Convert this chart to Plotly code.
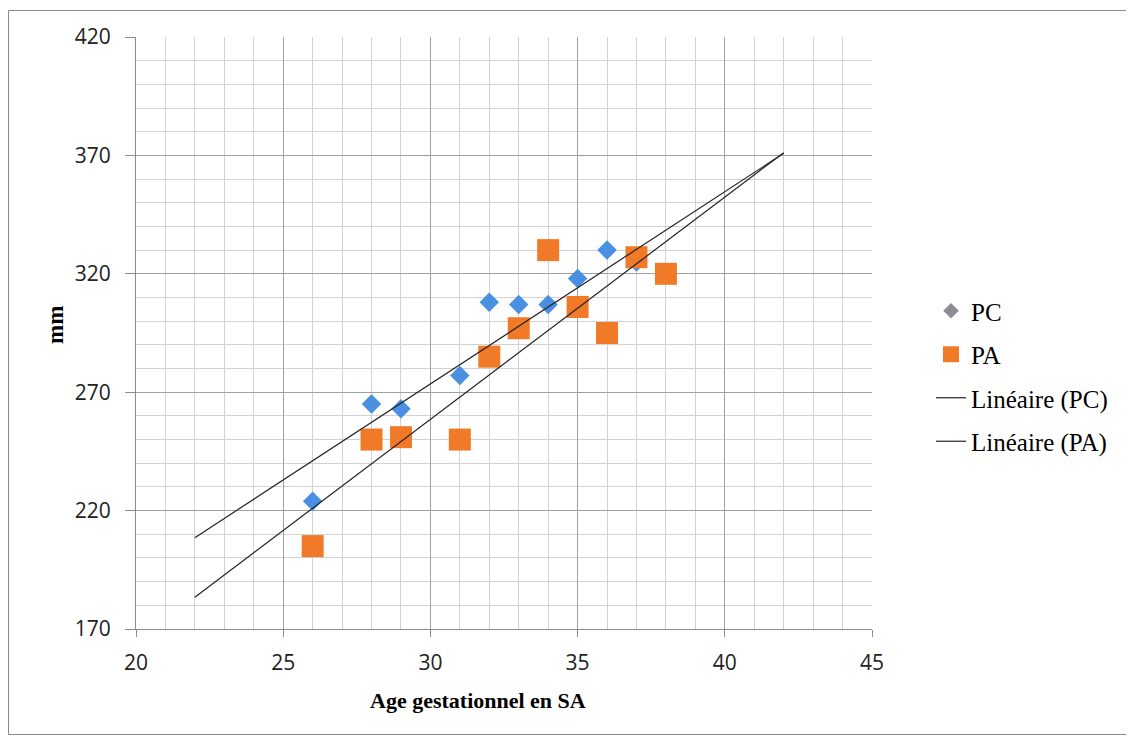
import numpy as np
import plotly.graph_objects as go

# Data
ages_pc = [26, 28, 29, 31, 32, 33, 34, 35, 36, 37, 38]
pc_values = [224, 265, 263, 277, 308, 307, 307, 318, 330, 325, 320]
ages_pa = [26, 28, 29, 31, 32, 33, 34, 35, 36, 37, 38]
pa_values = [205, 250, 251, 250, 285, 297, 330, 306, 295, 327, 320]
trend_range = [22, 42]
x_ticks = [20, 25, 30, 35, 40, 45]
y_ticks = [170, 220, 270, 320, 370, 420]

BLUE = "#4A90E2"
ORANGE = "#F07A28"

def fit_line(x, y):
    slope, intercept = np.polyfit(x, y, 1)
    xs = np.array(trend_range, dtype=float)
    return xs, slope * xs + intercept

# geometry (figure pixels; page has 8px body margin)
L, T, PW, PH = 128, 29, 736, 592
W, H = 1126, 730

fig = go.Figure()

fig.add_trace(go.Scatter(
    x=ages_pc, y=pc_values, mode="markers", name="PC",
    marker=dict(symbol="diamond", size=15, color=BLUE, line=dict(width=0)),
    showlegend=False))
fig.add_trace(go.Scatter(
    x=[None], y=[None], mode="markers", name="PC", legendgroup="g1",
    marker=dict(symbol="diamond", size=12, color="#8C8C96")))
fig.add_trace(go.Scatter(
    x=ages_pa, y=pa_values, mode="markers", name="PA", legendgroup="g2",
    marker=dict(symbol="square", size=22, color=ORANGE, line=dict(width=0))))

xs, ys = fit_line(ages_pc, pc_values)
fig.add_trace(go.Scatter(x=xs, y=ys, mode="lines", name="Linéaire (PC)",
                         legendgroup="g3",
                         line=dict(color="#222222", width=1.2)))
xs, ys = fit_line(ages_pa, pa_values)
fig.add_trace(go.Scatter(x=xs, y=ys, mode="lines", name="Linéaire (PA)",
                         legendgroup="g4",
                         line=dict(color="#222222", width=1.2)))

def px_x(p):
    return (p - L) / PW

def px_y(p):
    return (T + PH - p) / PH

fig.update_layout(
    width=W, height=H,
    margin=dict(l=L, r=W - L - PW, t=T, b=H - T - PH),
    paper_bgcolor="white", plot_bgcolor="white",
    font=dict(family="Liberation Serif, Times New Roman, serif", color="#000000"),
    legend=dict(x=px_x(923), y=px_y(368), xanchor="left", yanchor="middle",
                font=dict(family="Liberation Serif, serif", size=25, color="#000"),
                tracegroupgap=8, traceorder="grouped",
                bgcolor="rgba(0,0,0,0)"),
    showlegend=True,
    xaxis=dict(
        range=[20, 45], tickvals=x_ticks, ticks="outside", ticklen=7,
        tickcolor="#8C8C8C", showline=True, linecolor="#8C8C8C", linewidth=1,
        showgrid=True, gridcolor="#A0A0A0", gridwidth=1, zeroline=False,
        minor=dict(dtick=1, showgrid=True, gridcolor="#D2D2D2", gridwidth=1),
        tickfont=dict(family="Open Sans, sans-serif", size=21, color="#222"),
        ticklabelstandoff=8,
    ),
    yaxis=dict(
        range=[170, 420], tickvals=y_ticks, ticks="outside", ticklen=10,
        tickcolor="#8C8C8C", showline=True, linecolor="#8C8C8C", linewidth=1,
        showgrid=True, gridcolor="#A0A0A0", gridwidth=1, zeroline=False,
        minor=dict(dtick=10, showgrid=True, gridcolor="#D2D2D2", gridwidth=1),
        tickfont=dict(family="Open Sans, sans-serif", size=21, color="#222"),
        ticklabelstandoff=10,
    ),
    annotations=[
        dict(text="<b>Age gestationnel en SA</b>", xref="paper", yref="paper",
             x=px_x(470), y=px_y(692), xanchor="center", yanchor="middle",
             showarrow=False,
             font=dict(family="Liberation Serif, serif", size=22, color="#000")),
        dict(text="<b>mm</b>", xref="paper", yref="paper",
             x=px_x(47), y=px_y(317), xanchor="center", yanchor="middle",
             textangle=-90, showarrow=False,
             font=dict(family="Liberation Serif, serif", size=23, color="#000")),
    ],
    shapes=[dict(type="rect", xref="paper", yref="paper",
                 x0=px_x(0.5), x1=px_x(1121.5), y0=px_y(726.5), y1=px_y(2.5),
                 line=dict(color="#8A8A8A", width=1), fillcolor="rgba(0,0,0,0)",
                 layer="below")],
)

fig.write_html("out.html")
